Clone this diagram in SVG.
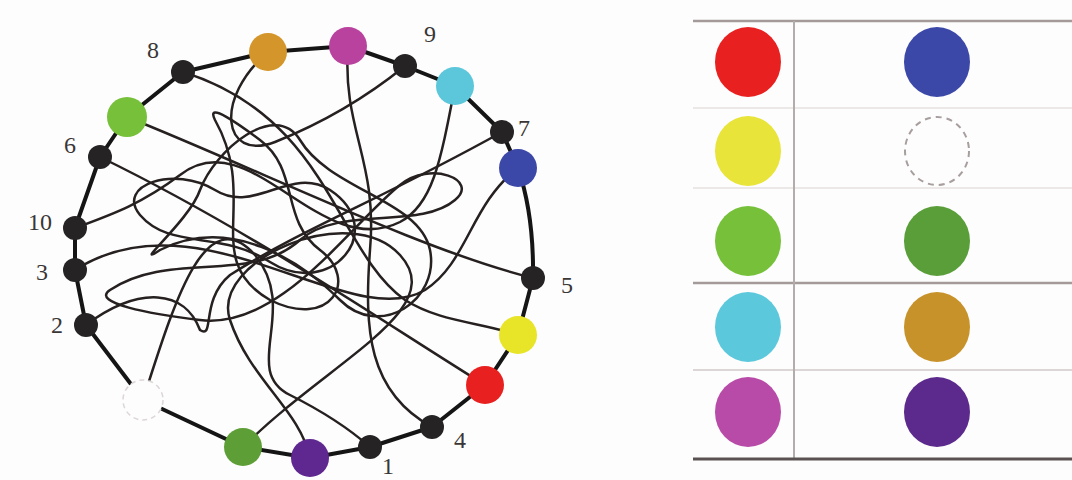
<svg xmlns="http://www.w3.org/2000/svg" width="1072" height="480" viewBox="0 0 1072 480">
<style>
.bg{fill:#fdfdfd}
.ring{fill:none;stroke:#151515;stroke-width:4;stroke-linejoin:round}
.cv{fill:none;stroke:#262020;stroke-width:2.5;stroke-linecap:round}
.blk{fill:#252323}
.lbl{font-family:"Liberation Serif","DejaVu Serif",serif;font-size:24px;fill:#3a3636;text-anchor:middle}
.tl{stroke:#a49a9a;stroke-width:2.5}
.tf{stroke:#ece8e8;stroke-width:2}
</style>
<rect class="bg" x="0" y="0" width="1072" height="480"/>

<g id="ring">
<path class="ring" d="M268,52 L348,46 L405,66 L455,86 L502,132 L518,168 Q534,215 533,278 L518,335 L485,385 L432,427 L370,447 L310,458 L243,447 L143,400 L86,325 L75,270 L75,228 L100,157 L127,117 L183,72 Z"/>
</g>

<g id="connectors">
<path class="cv" d="M348,46 C342,130 378,160 370,250 C364,330 368,392 432,427"/>
<path class="cv" d="M268,52 C214,98 222,162 275,142 C325,122 368,96 405,66"/>
<path class="cv" d="M183,72 C330,118 335,250 405,300 C440,322 480,322 518,335"/>
<path class="cv" d="M127,117 C260,170 420,250 533,278"/>
<path class="cv" d="M100,157 C250,230 380,320 485,385"/>
<path class="cv" d="M455,86 C440,165 432,205 400,222 C320,262 250,120 180,175 C140,205 110,215 75,228"/>
<path class="cv" d="M75,270 C200,190 350,335 425,290 C468,262 470,205 518,168"/>
<path class="cv" d="M502,132 C380,200 300,230 230,275 C200,300 215,340 200,330 C185,290 140,285 86,325"/>
<path class="cv" d="M143,400 C175,300 205,200 255,255 C300,310 240,370 290,395 C320,410 345,425 370,447"/>
<path class="cv" d="M243,447 C330,360 450,310 400,255 C350,200 210,260 230,320 C250,380 300,410 310,458"/>
<path class="cv" d="M330,190 C390,230 330,300 270,262 C220,230 170,250 140,215 C115,185 175,165 215,190 C255,215 290,165 330,190 Z"/>
<path class="cv" d="M160,250 C230,215 300,260 340,300 C380,340 440,300 430,250 C420,200 330,190 300,140 C275,100 215,150 200,190 C190,220 130,270 160,250 Z"/>
<path class="cv" d="M215,120 C260,200 200,260 270,300 C330,330 360,280 320,250 C280,220 300,170 260,140 C240,125 205,100 215,120 Z"/>
<path class="cv" d="M110,290 C170,250 250,285 300,240 C340,205 420,230 455,200 C480,180 430,160 400,185 C350,225 280,330 200,320 C150,314 90,303 110,290 Z"/>
</g>

<g id="n-orange"><circle cx="268" cy="52" r="19" fill="#d4952a"/></g>
<g id="n-magenta"><circle cx="348" cy="46" r="19" fill="#b8429e"/></g>
<g id="n-9"><circle class="blk" cx="405" cy="66" r="12"/></g>
<g id="n-cyan"><circle cx="455" cy="86" r="19" fill="#5cc6da"/></g>
<g id="n-7"><circle class="blk" cx="502" cy="132" r="12"/></g>
<g id="n-blue"><circle cx="518" cy="168" r="19" fill="#3c48a8"/></g>
<g id="n-5"><circle class="blk" cx="533" cy="278" r="12"/></g>
<g id="n-yellow"><circle cx="518" cy="335" r="19" fill="#e8e428"/></g>
<g id="n-red"><circle cx="485" cy="385" r="19" fill="#e82020"/></g>
<g id="n-4"><circle class="blk" cx="432" cy="427" r="12"/></g>
<g id="n-1"><circle class="blk" cx="370" cy="447" r="12"/></g>
<g id="n-purple"><circle cx="310" cy="458" r="19" fill="#5e2890"/></g>
<g id="n-green2"><circle cx="243" cy="447" r="19" fill="#5e9e36"/></g>
<g id="n-white"><circle cx="143" cy="400" r="20" fill="#fdfdfd" stroke="#ddd6d6" stroke-width="1.5" stroke-dasharray="5 4"/></g>
<g id="n-2"><circle class="blk" cx="86" cy="325" r="12"/></g>
<g id="n-3"><circle class="blk" cx="75" cy="270" r="12"/></g>
<g id="n-10"><circle class="blk" cx="75" cy="228" r="12"/></g>
<g id="n-6"><circle class="blk" cx="100" cy="157" r="12"/></g>
<g id="n-green1"><circle cx="127" cy="117" r="20" fill="#76c03a"/></g>
<g id="n-8"><circle class="blk" cx="183" cy="72" r="12"/></g>

<g id="labels">
<text class="lbl" x="153" y="58">8</text>
<text class="lbl" x="430" y="42">9</text>
<text class="lbl" x="524" y="136">7</text>
<text class="lbl" x="70" y="153">6</text>
<text class="lbl" x="40" y="230">10</text>
<text class="lbl" x="42" y="280">3</text>
<text class="lbl" x="57" y="333">2</text>
<text class="lbl" x="567" y="293">5</text>
<text class="lbl" x="460" y="448">4</text>
<text class="lbl" x="388" y="474">1</text>
</g>

<g id="legend">
<line class="tf" x1="693" y1="108" x2="1072" y2="108"/>
<line class="tf" x1="693" y1="188" x2="1072" y2="188"/>
<line x1="693" y1="370" x2="1072" y2="370" stroke="#ddd6d6" stroke-width="2"/>
<line class="tl" x1="693" y1="21" x2="1072" y2="21"/>
<line class="tl" x1="693" y1="283" x2="1072" y2="283"/>
<line x1="794" y1="21" x2="794" y2="459" stroke="#b4acac" stroke-width="2"/>
<line x1="693" y1="459" x2="1072" y2="459" stroke="#5a5252" stroke-width="3"/>
<g id="lg-red"><ellipse cx="748" cy="62" rx="33" ry="35" fill="#e82020"/></g>
<g id="lg-blue"><ellipse cx="937" cy="62" rx="33" ry="35" fill="#3c48a8"/></g>
<g id="lg-yellow"><ellipse cx="748" cy="151" rx="33" ry="35" fill="#e8e43a"/></g>
<g id="lg-white"><ellipse cx="937" cy="151" rx="32" ry="34" fill="#fdfdfd" stroke="#a89e9e" stroke-width="2" stroke-dasharray="6 5"/></g>
<g id="lg-green"><ellipse cx="748" cy="241" rx="33" ry="35" fill="#76c03a"/></g>
<g id="lg-dgreen"><ellipse cx="937" cy="241" rx="33" ry="35" fill="#5a9e3a"/></g>
<g id="lg-cyan"><ellipse cx="748" cy="327" rx="33" ry="35" fill="#5cc8dc"/></g>
<g id="lg-orange"><ellipse cx="937" cy="327" rx="33" ry="35" fill="#c8922a"/></g>
<g id="lg-magenta"><ellipse cx="748" cy="412" rx="33" ry="35" fill="#b84aa8"/></g>
<g id="lg-purple"><ellipse cx="937" cy="412" rx="33" ry="35" fill="#5c2a8c"/></g>
</g>
</svg>
